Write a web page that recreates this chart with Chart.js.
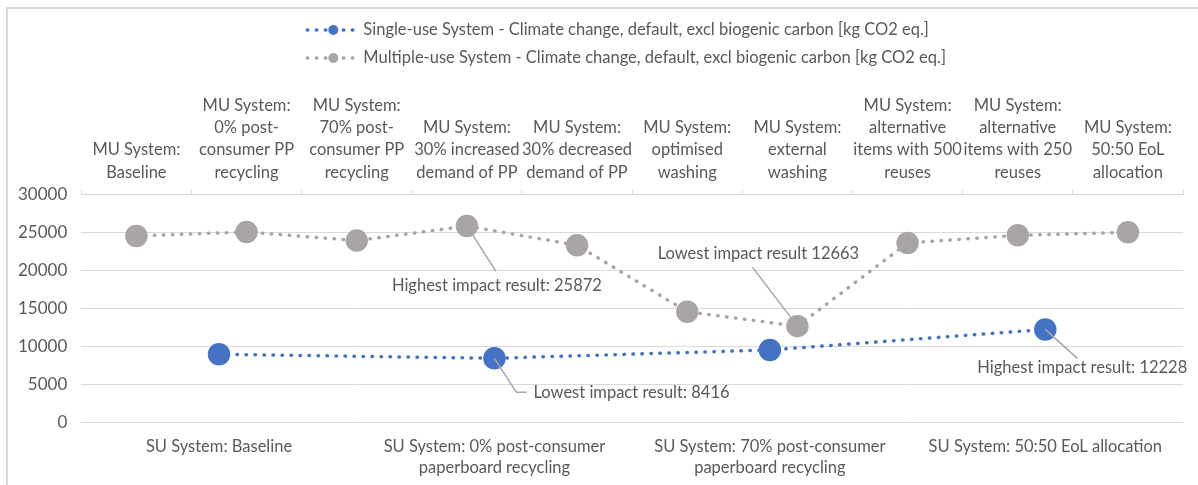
<!DOCTYPE html>
<html>
<head>
<meta charset="utf-8">
<script src="https://cdn.jsdelivr.net/npm/chart.js@4.4.1/dist/chart.umd.min.js"></script>
<style>
    html, body { margin: 0; padding: 0; background: #ffffff; }
    #wrap { position: relative; width: 1198px; height: 485px; overflow: hidden; }
    #frame {
        position: absolute; left: 6px; top: 7px; width: 1200px; height: 490px;
        border: 2px solid #d9d9d9; pointer-events: none;
    }
</style>
</head>
<body>
<div id="wrap">
    <canvas id="impact-chart" width="1198" height="485"></canvas>
    <div id="frame"></div>
</div>
<script>
// Single-use scenarios (bottom axis)
const suLabels = [
    ["SU System: Baseline"],
    ["SU System: 0% post-consumer", "paperboard recycling"],
    ["SU System: 70% post-consumer", "paperboard recycling"],
    ["SU System: 50:50 EoL allocation"],
];
const suValues = [8950, 8416, 9520, 12228];

// Multiple-use scenarios (top axis)
const muLabels = [
    ["MU System:", "Baseline"],
    ["MU System:", "0% post-", "consumer PP", "recycling"],
    ["MU System:", "70% post-", "consumer PP", "recycling"],
    ["MU System:", "30% increased", "demand of PP"],
    ["MU System:", "30% decreased", "demand of PP"],
    ["MU System:", "optimised", "washing"],
    ["MU System:", "external", "washing"],
    ["MU System:", "alternative", "items with 500", "reuses"],
    ["MU System:", "alternative", "items with 250", "reuses"],
    ["MU System:", "50:50 EoL", "allocation"],
];
const muValues = [24560, 25090, 23950, 25872, 23340, 14560, 12663, 23640, 24650, 25050];

const seriesNames = [
    "Single-use System - Climate change, default, excl biogenic carbon [kg CO2 eq.]",
    "Multiple-use System - Climate change, default, excl biogenic carbon [kg CO2 eq.]",
];

const yMin = 0;
const yMax = 30000;
const yStep = 5000;

// callout texts: [datasetIndex, pointIndex, text]
const callouts = [
    [1, 3, "Highest impact result: 25872"],
    [0, 1, "Lowest impact result: 8416"],
    [1, 6, "Lowest impact result 12663"],
    [0, 3, "Highest impact result: 12228"],
];

const textColor = "#595959";
const gridColor = "#d9d9d9";
const blue = "#4472c4";
const grey = "#a9a5a5";
const fontFamily = "Lato, 'Open Sans', sans-serif";
const fontSize = 16.5;

// Where each callout sits relative to its point
const calloutLayout = [
    { line: [[29, 45]], text: [30, 60], align: "center" },
    { line: [[22, 34], [32, 34]], text: [39, 34], align: "left" },
    { line: [[-45, -59]], text: [-39, -72], align: "center" },
    { line: [[32, 29]], text: [37, 38], align: "center" },
];

const calloutPlugin = {
    id: "callouts",
    afterDatasetsDraw(c) {
        const ctx = c.ctx;
        ctx.save();
        ctx.font = fontSize + "px " + fontFamily;
        ctx.textBaseline = "middle";
        callouts.forEach(([ds, i, text], n) => {
            const el = c.getDatasetMeta(ds).data[i];
            const lay = calloutLayout[n];
            ctx.strokeStyle = "#a6a6a6";
            ctx.lineWidth = 1.5;
            ctx.beginPath();
            ctx.moveTo(el.x, el.y);
            lay.line.forEach(([dx, dy]) => ctx.lineTo(el.x + dx, el.y + dy));
            ctx.stroke();
            ctx.fillStyle = textColor;
            ctx.textAlign = lay.align;
            ctx.fillText(text, el.x + lay.text[0], el.y + lay.text[1]);
        });
        ctx.restore();
    },
};

// Excel-like legend: dotted line with a dot, rows stacked
const legendPlugin = {
    id: "stackedLegend",
    afterDraw(c) {
        const ctx = c.ctx;
        ctx.save();
        ctx.font = fontSize + "px " + fontFamily;
        const widths = c.data.datasets.map((d) => ctx.measureText(d.label).width);
        const blockW = 57 + Math.max(...widths);
        const left = (c.chartArea.left + c.chartArea.right) / 2 - 6 - blockW / 2;
        c.data.datasets.forEach((d, k) => {
            const y = 30 + k * 28;
            ctx.strokeStyle = d.borderColor;
            ctx.lineWidth = 3.5;
            ctx.lineCap = "round";
            ctx.setLineDash([0.5, 8.5]);
            ctx.beginPath();
            ctx.moveTo(left + 1, y);
            ctx.lineTo(left + 51, y);
            ctx.stroke();
            ctx.setLineDash([]);
            ctx.fillStyle = d.pointBackgroundColor;
            ctx.beginPath();
            ctx.arc(left + 27, y, 5, 0, Math.PI * 2);
            ctx.fill();
            ctx.fillStyle = textColor;
            ctx.textAlign = "left";
            ctx.textBaseline = "middle";
            ctx.fillText(d.label, left + 57, y);
        });
        ctx.restore();
    },
};

const ctx = document.getElementById("impact-chart");

// eslint-disable-next-line no-unused-vars
const chart = new Chart(ctx, {
    type: "line",
    data: {
        datasets: [
            {
                label: seriesNames[0],
                data: suValues,
                xAxisID: "x",
                borderColor: blue,
                backgroundColor: blue,
                pointBackgroundColor: blue,
                pointBorderColor: blue,
                pointRadius: 9.5,
                borderWidth: 3.5,
                borderDash: [0.5, 8.5],
                borderCapStyle: "round",
                tension: 0,
            },
            {
                label: seriesNames[1],
                data: muValues,
                xAxisID: "x2",
                borderColor: grey,
                backgroundColor: grey,
                pointBackgroundColor: grey,
                pointBorderColor: grey,
                pointRadius: 9.5,
                borderWidth: 3.5,
                borderDash: [0.5, 8.5],
                borderCapStyle: "round",
                tension: 0,
            },
        ],
    },
    options: {
        responsive: false,
        animation: false,
        layout: {
            padding: { top: 88, left: 4, right: 15, bottom: 1 },
        },
        plugins: {
            legend: { display: false },
            tooltip: { enabled: false },
        },
        scales: {
            x: {
                type: "category",
                position: "bottom",
                labels: suLabels,
                offset: true,
                grid: { display: false },
                border: { display: false },
                ticks: {
                    color: textColor,
                    font: { family: fontFamily, size: fontSize, lineHeight: 1.27 },
                    maxRotation: 0,
                    autoSkip: false,
                    padding: 6,
                },
            },
            x2: {
                type: "category",
                position: "top",
                labels: muLabels,
                offset: true,
                grid: {
                    offset: true,
                    drawOnChartArea: false,
                    drawTicks: true,
                    tickLength: 5,
                    color: gridColor,
                },
                border: { display: true, color: gridColor },
                ticks: {
                    color: textColor,
                    font: { family: fontFamily, size: fontSize, lineHeight: 1.36 },
                    maxRotation: 0,
                    autoSkip: false,
                    padding: 6,
                },
            },
            y: {
                min: yMin,
                max: yMax,
                grid: { color: gridColor, drawTicks: false },
                border: { display: false },
                ticks: {
                    stepSize: yStep,
                    color: textColor,
                    font: { family: fontFamily, size: 17 },
                    padding: 14,
                    callback: (v) => String(v),
                },
            },
        },
    },
    plugins: [calloutPlugin, legendPlugin],
});
</script>
</body>
</html>
